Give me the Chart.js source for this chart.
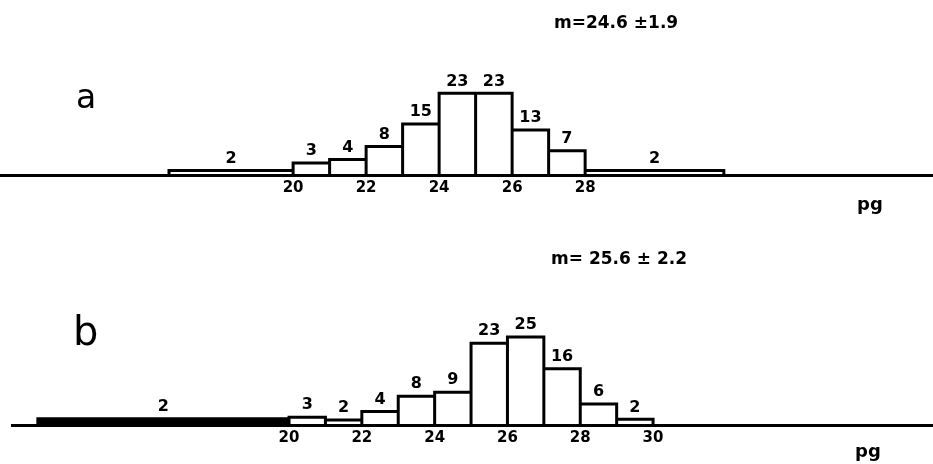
<!DOCTYPE html>
<html>
<head>
<meta charset="utf-8">
<script src="https://cdn.jsdelivr.net/npm/chart.js@4.4.1/dist/chart.umd.min.js"></script>
<style>
  body { margin: 0; background: #fff; width: 933px; height: 464px; overflow: hidden; position: relative; font-family: "DejaVu Sans", sans-serif; }
  canvas { position: absolute; left: 0; }
  .t { position: absolute; color: #000; white-space: nowrap; line-height: 1; }
  .m { font-size: 17px; font-weight: bold; }
  .pg { font-size: 18px; font-weight: bold; }
  .panel { font-family: "DejaVu Sans", sans-serif; font-weight: normal; }
</style>
</head>
<body>
<canvas id="chartA" width="933" height="232" style="top:0"></canvas>
<canvas id="chartB" width="933" height="232" style="top:232px"></canvas>

<div class="t panel" style="left:76px;top:80px;font-size:33px">a</div>
<div class="t m" style="left:554px;top:14px">m=24.6 ±1.9</div>
<div class="t pg" style="left:857px;top:195px">pg</div>

<div class="t panel" style="left:73px;top:311px;font-size:40px">b</div>
<div class="t m" style="left:551px;top:250px">m= 25.6 ± 2.2</div>
<div class="t pg" style="left:855px;top:442px">pg</div>

<script>
// panel a: bin edges (pg), counts written over the bars, drawn bar heights
const edgesA = [16.6, 20, 21, 22, 23, 24, 25, 26, 27, 28, 31.8];
const countsA = [2, 3, 4, 8, 15, 23, 23, 13, 7, 2];
const heightsA = [1.3, 3.4, 4.4, 8, 14.4, 23, 23, 12.7, 6.8, 1.3];
const ticksA = [20, 22, 24, 26, 28];

// panel b
const edgesB = [13.1, 20, 21, 22, 23, 24, 25, 26, 27, 28, 29, 30];
const countsB = [2, 3, 2, 4, 8, 9, 23, 25, 16, 6, 2];
const heightsB = [1.8, 2.2, 1.4, 3.8, 8.2, 9.3, 23.2, 25, 16, 6, 1.6];
const ticksB = [20, 22, 24, 26, 28, 30];

// each bin as a box: up the left wall, across the top, down the right wall
function outline(edges, heights) {
  const pts = [];
  heights.forEach((h, i) => {
    pts.push({ x: edges[i], y: 0 }, { x: edges[i], y: h }, { x: edges[i + 1], y: h }, { x: edges[i + 1], y: 0 });
  });
  return pts;
}

function makePanel(id, edges, heights, counts, ticks, cfg) {
  const countLabels = {
    id: 'countLabels',
    afterDatasetsDraw(chart) {
      const { ctx, scales: { x, y } } = chart;
      ctx.save();
      ctx.font = 'bold 16px "DejaVu Sans"';
      ctx.fillStyle = '#000';
      ctx.textAlign = 'center';
      ctx.textBaseline = 'bottom';
      counts.forEach((c, i) => {
        const cx = x.getPixelForValue((edges[i] + edges[i + 1]) / 2);
        ctx.fillText(String(c), cx, y.getPixelForValue(heights[i]) - 4);
      });
      ctx.restore();
    }
  };

  const datasets = [{
    data: outline(edges, heights),
    borderColor: '#000',
    borderWidth: 3,
    borderJoinStyle: 'miter',
    pointRadius: 0,
    tension: 0,
    fill: false
  }];
  if (cfg.solidTail) {
    // the long low tail on the left is printed nearly solid
    datasets.unshift({
      data: outline(edges.slice(0, 2), heights.slice(0, 1)),
      borderWidth: 0,
      pointRadius: 0,
      backgroundColor: '#000',
      fill: 'origin'
    });
  }

  return new Chart(document.getElementById(id), {
    type: 'line',
    data: { datasets },
    options: {
      responsive: false,
      animation: false,
      events: [],
      layout: { padding: { top: cfg.top, left: cfg.left, right: 0, bottom: 0 } },
      plugins: { legend: { display: false }, tooltip: { enabled: false } },
      scales: {
        x: {
          type: 'linear',
          min: cfg.min,
          max: cfg.max,
          afterBuildTicks: s => { s.ticks = ticks.map(v => ({ value: v })); },
          afterFit: s => { s.height = cfg.axisH; },
          grid: { display: false, drawTicks: false },
          border: { display: true, color: '#000', width: 3 },
          ticks: {
            color: '#000',
            padding: 4,
            maxRotation: 0,
            font: { family: 'DejaVu Sans', weight: 'bold', size: 15 }
          }
        },
        y: { display: false, min: 0, max: 30 }
      }
    },
    plugins: [countLabels]
  });
}

makePanel('chartA', edgesA, heightsA, countsA, ticksA,
  { min: 11.97, max: 37.53, top: 68.5, left: 0, axisH: 57, solidTail: false });
makePanel('chartB', edgesB, heightsB, countsB, ticksB,
  { min: 12.39, max: 37.69, top: 87.4, left: 12, axisH: 39, solidTail: true });
</script>
</body>
</html>
